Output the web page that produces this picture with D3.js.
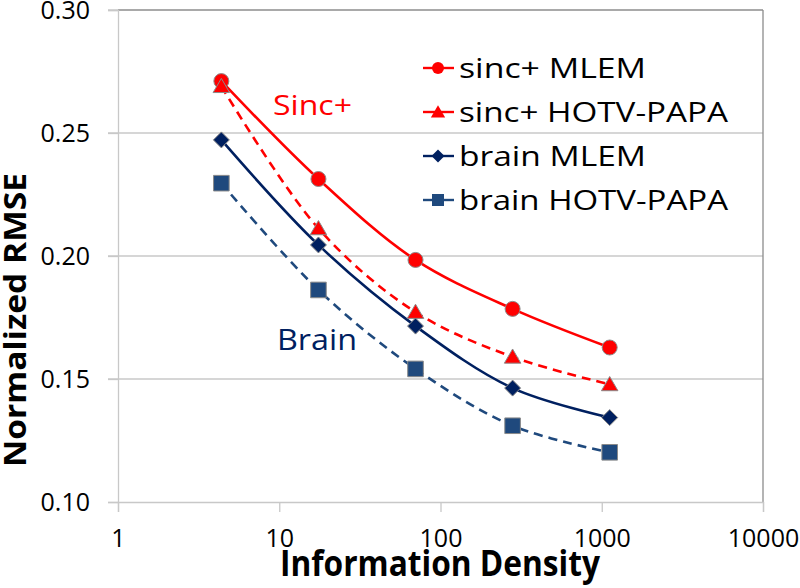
<!DOCTYPE html>
<html>
<head>
<meta charset="utf-8">
<script src="https://cdn.jsdelivr.net/npm/d3@7/dist/d3.min.js"></script>
<style>
  html, body { margin: 0; padding: 0; background: #fff; }
  svg { display: block; }
  text { font-family: "Open Sans", "Liberation Sans", sans-serif; }
</style>
</head>
<body>
<svg id="chart" width="800" height="588"></svg>
<script>
// ---- data ----
const density = [4.375, 17.5, 70, 280, 1120];
const sincMLEM = [0.2711, 0.2313, 0.1984, 0.1785, 0.1628];
const sincHOTV = [0.2690, 0.2112, 0.1772, 0.1590, 0.1478];
const brainMLEM = [0.2472, 0.2045, 0.1715, 0.1463, 0.1343];
const brainHOTV = [0.2296, 0.1862, 0.1541, 0.1310, 0.1202];
const xTicks = [1, 10, 100, 1000, 10000];
const yTicks = [0.10, 0.15, 0.20, 0.25, 0.30];
const seriesNames = ["sinc+ MLEM", "sinc+ HOTV-PAPA", "brain MLEM", "brain HOTV-PAPA"];

const series = [
  { name: seriesNames[0], values: sincMLEM, color: "#FF0000", dash: null, marker: "circle", mfill: "#FF0000" },
  { name: seriesNames[1], values: sincHOTV, color: "#FF0000", dash: "9,6", marker: "triangle", mfill: "#FF0000" },
  { name: seriesNames[2], values: brainMLEM, color: "#002060", dash: null, marker: "diamond", mfill: "#002060" },
  { name: seriesNames[3], values: brainHOTV, color: "#1F497D", dash: "9,6", marker: "square", mfill: "#1F497D" }
];

const svg = d3.select("#chart");
const x = d3.scaleLog().domain([1, 10000]).range([118, 763]);
const y = d3.scaleLinear().domain([0.10, 0.30]).range([502, 10]);

// gridlines
svg.append("g").selectAll("line").data(yTicks.filter(d => d > 0.1 && d < 0.3)).join("line")
  .attr("x1", 108).attr("x2", 763)
  .attr("y1", d => y(d)).attr("y2", d => y(d))
  .attr("stroke", "#C8C8C8").attr("stroke-width", 1.3);

// plot area border top/right
svg.append("line").attr("x1", 108).attr("x2", 118).attr("y1", y(0.30)).attr("y2", y(0.30))
  .attr("stroke", "#C8C8C8").attr("stroke-width", 1.3);
svg.append("line").attr("x1", 118).attr("x2", 763).attr("y1", y(0.30)).attr("y2", y(0.30))
  .attr("stroke", "#8C8C8C").attr("stroke-width", 1.3);
svg.append("line").attr("x1", 763).attr("x2", 763).attr("y1", y(0.30)).attr("y2", y(0.10))
  .attr("stroke", "#8C8C8C").attr("stroke-width", 1.3);

// y axis
const yAxis = d3.axisLeft(y).tickValues(yTicks).tickFormat(d3.format(".2f")).tickSize(10).tickPadding(18);
const gy = svg.append("g").attr("transform", "translate(118,0)").call(yAxis);
gy.select(".domain").attr("stroke", "#C8C8C8").attr("stroke-width", 1.3);
gy.selectAll(".tick line").attr("stroke", "#C8C8C8").attr("stroke-width", 1.3);
gy.selectAll(".tick text").attr("font-size", 25).attr("fill", "#000")
  .style("font-family", "'Open Sans', sans-serif");

// x axis
const xAxis = d3.axisBottom(x).tickValues(xTicks).tickFormat(d3.format("d")).tickSize(10).tickPadding(17);
const gx = svg.append("g").attr("transform", "translate(0,502)").call(xAxis);
gx.select(".domain").attr("stroke", "#C8C8C8").attr("stroke-width", 1.3);
gx.selectAll(".tick line").attr("stroke", "#C8C8C8").attr("stroke-width", 1.3);
gx.selectAll(".tick text").attr("font-size", 25).attr("fill", "#000")
  .style("font-family", "'Open Sans', sans-serif");

// axis titles
svg.append("text").attr("x", 440).attr("y", 576).attr("text-anchor", "middle")
  .attr("font-size", 36).attr("font-weight", "bold").attr("fill", "#000")
  .attr("textLength", 320).attr("lengthAdjust", "spacingAndGlyphs")
  .text("Information Density");
svg.append("text").attr("transform", "translate(26,320) rotate(-90)").attr("text-anchor", "middle")
  .attr("font-size", 31).attr("font-weight", "bold").attr("fill", "#000")
  .attr("textLength", 294).attr("lengthAdjust", "spacingAndGlyphs")
  .text("Normalized RMSE");

// marker path generator
function markerPath(type, s) {
  if (type === "circle") return d3.symbol().type(d3.symbolCircle).size(Math.PI * s * s)();
  if (type === "triangle") {
    const h = s * 1.05;
    return `M0,${-h}L${s * 1.1},${h * 0.8}L${-s * 1.1},${h * 0.8}Z`;
  }
  if (type === "diamond") return `M0,${-s}L${s},0L0,${s}L${-s},0Z`;
  if (type === "square") return `M${-s},${-s}H${s}V${s}H${-s}Z`;
}
const markerSize = { circle: 7.5, triangle: 7.5, diamond: 8, square: 7.8 };
const legendSize = { circle: 6, triangle: 6.5, diamond: 6.5, square: 6 };

const line = d3.line().x(d => x(d[0])).y(d => y(d[1])).curve(d3.curveCatmullRom.alpha(0.5));

series.forEach(s => {
  const pts = density.map((d, i) => [d, s.values[i]]);
  svg.append("path").datum(pts).attr("d", line)
    .attr("fill", "none").attr("stroke", s.color).attr("stroke-width", 2.6)
    .attr("stroke-dasharray", s.dash);
});
series.forEach(s => {
  const pts = density.map((d, i) => [d, s.values[i]]);
  svg.append("g").selectAll("path").data(pts).join("path")
    .attr("transform", d => `translate(${x(d[0])},${y(d[1])})`)
    .attr("d", markerPath(s.marker, markerSize[s.marker]))
    .attr("fill", s.mfill).attr("stroke", "#8A8A8A").attr("stroke-width", 1);
});

// annotations
svg.append("text").attr("x", 273).attr("y", 115).attr("font-size", 28).attr("fill", "#FF0000")
  .attr("textLength", 79).attr("lengthAdjust", "spacingAndGlyphs").text("Sinc+");
svg.append("text").attr("x", 277).attr("y", 350).attr("font-size", 29).attr("fill", "#002060")
  .attr("textLength", 80).attr("lengthAdjust", "spacingAndGlyphs").text("Brain");

// legend
const legendRows = [68, 112, 156, 200];
const legendWidths = [187, 269, 187, 269];
series.forEach((s, i) => {
  const g = svg.append("g").attr("transform", `translate(0,${legendRows[i]})`);
  g.append("line").attr("x1", 423).attr("x2", 454).attr("y1", 0).attr("y2", 0)
    .attr("stroke", s.color).attr("stroke-width", 2.4);
  g.append("path").attr("transform", "translate(438,0)")
    .attr("d", markerPath(s.marker, legendSize[s.marker])).attr("fill", s.mfill);
  g.append("text").attr("x", 459).attr("y", 10).attr("font-size", 28).attr("fill", "#000")
    .attr("textLength", legendWidths[i]).attr("lengthAdjust", "spacingAndGlyphs")
    .text(s.name);
});
</script>
</body>
</html>
